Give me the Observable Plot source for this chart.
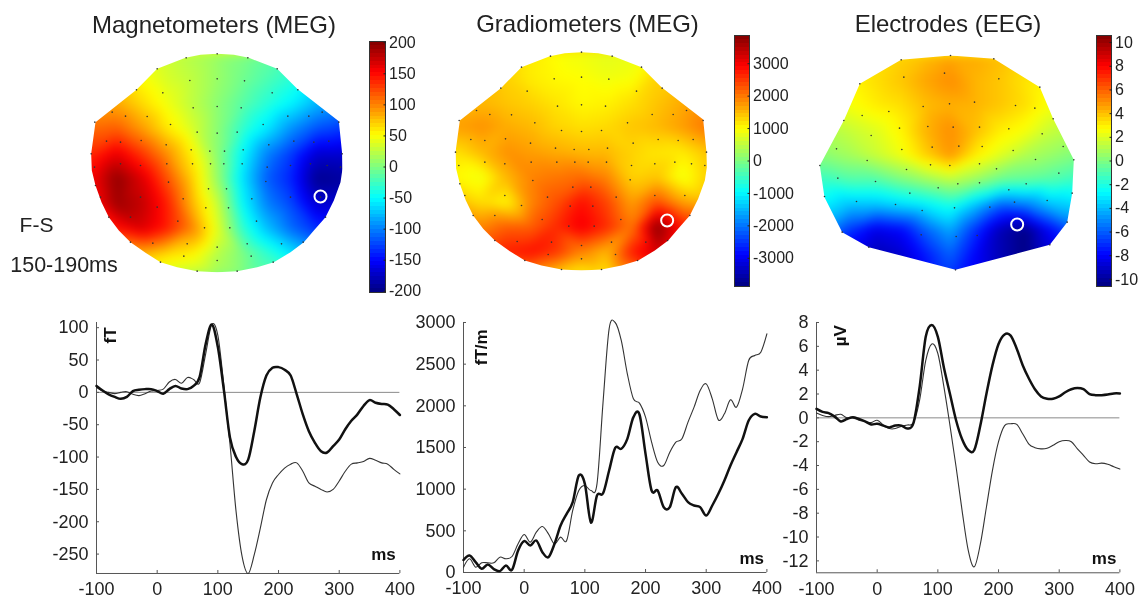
<!DOCTYPE html>
<html>
<head>
<meta charset="utf-8">
<script src="https://cdn.jsdelivr.net/npm/d3@7"></script>
<script src="https://cdn.jsdelivr.net/npm/@observablehq/plot@0.6"></script>
<style>
html,body{margin:0;padding:0;background:#fff;}
#chart{position:relative;width:1139px;height:598px;overflow:hidden;background:#fff;font-family:"Liberation Sans",Arial,sans-serif;color:#222;filter:blur(0.35px);}
#chart svg{overflow:visible;background:transparent;max-width:none;}
#chart .slot{position:absolute;}
#chart .t{position:absolute;white-space:nowrap;transform:translate(-50%,-50%);}
</style>
</head>
<body>
<div id="chart"></div>
<script>
// ---------- time axis shared by all traces (ms)
const times = [-100,-90,-80,-70,-60,-50,-40,-30,-20,-10,0,10,20,30,40,50,60,70,80,90,100,110,120,130,140,150,160,170,180,190,200,210,220,230,240,250,260,270,280,290,300,310,320,330,340,350,360,370,380,390,400];

// ---------- evoked traces
const magThick = [10,3,-3,-7,-10,-7,2,4,5,5,2,-2,5,10,6,5,10,24,75,105,70,3,-70,-100,-111,-104,-60,-8,26,38,39,35,26,-3,-34,-60,-78,-91,-93,-83,-73,-57,-44,-34,-21,-12,-16,-18,-19,-26,-35];
const magThin = [8,2,0,-2,0,1,-3,-5,-2,2,3,5,16,20,14,23,20,15,60,105,88,10,-80,-184,-254,-280,-251,-210,-166,-140,-127,-117,-111,-109,-122,-140,-145,-150,-154,-150,-137,-122,-111,-109,-107,-102,-105,-109,-111,-119,-126];
const gradThick = [150,204,124,44,96,40,16,84,32,264,376,324,384,244,184,344,564,704,844,1164,1064,600,924,950,1224,1496,1484,1604,1864,1896,1424,984,984,784,784,1024,944,844,804,784,684,804,944,1104,1284,1444,1604,1824,1904,1872,1864];
const gradThin = [64,164,64,116,116,116,184,164,192,344,456,364,484,552,464,344,424,384,744,984,1044,984,1064,2044,2924,3000,2784,2384,2084,2032,1864,1564,1324,1284,1444,1564,1604,1804,1984,2184,2264,2084,1832,1904,2072,1984,2204,2544,2604,2644,2864];
const eegThick = [0.75,0.5,0.4,0.1,-0.3,-0.1,0.05,-0.1,-0.3,-0.55,-0.5,-0.65,-0.8,-0.65,-0.65,-0.9,-0.4,2.6,6.8,7.8,6.8,4.2,2,-0.2,-1.8,-2.7,-2.7,-0.65,2,4.4,6.2,7,6.9,5.8,4.4,3.3,2.4,1.8,1.6,1.6,1.8,2.15,2.4,2.5,2.4,2,1.9,1.9,1.95,2.05,2.05];
const eegThin = [0.4,0.2,0.1,0.2,0.3,0,0,-0.2,-0.3,-0.4,-0.2,-0.6,-0.9,-0.9,-0.7,-0.6,-0.4,1.5,4.8,6.2,5.4,2.6,-0.65,-4.1,-7.8,-11.1,-12.5,-10.6,-7.5,-4.4,-2,-0.65,-0.5,-0.55,-1.35,-2.2,-2.5,-2.6,-2.55,-2.3,-2,-1.9,-2,-2.6,-3.15,-3.7,-3.85,-3.8,-3.9,-4.1,-4.3];

// ---------- tick values
const xTicks = [-100,0,100,200,300,400];
const magYTicks = [-250,-200,-150,-100,-50,0,50,100];
const gradYTicks = [0,500,1000,1500,2000,2500,3000];
const eegYTicks = [-12,-10,-8,-6,-4,-2,0,2,4,6,8];
const magBarTicks = [-200,-150,-100,-50,0,50,100,150,200];
const gradBarTicks = [-3000,-2000,-1000,0,1000,2000,3000];
const eegBarTicks = [-10,-8,-6,-4,-2,0,2,4,6,8,10];

// ---------- MEG sensor layout (sensor units)
const megOutlineX = [650,700,745,830,890,1015,1025,1026,1020,1000,975,940,910,870,820,770,710,650,590,530,480,435,390,355,325,303,285,274,272,285,408,470,555,600];
const megOutlineY = [160,163,172,205,265,362,460,505,545,600,650,690,725,755,785,800,812,815,812,800,785,757,725,690,650,605,555,510,460,365,268,205,172,163];
const megSensorX = [650,557,742,470,830,568,650,732,408,487,815,892,578,650,722,335,375,440,862,925,965,283,510,788,1015,590,650,710,318,360,422,497,805,880,940,985,272,572,628,672,728,1025,282,360,420,499,576,630,670,725,800,870,930,980,1020,285,504,624,678,796,300,420,548,754,870,960,470,616,684,325,390,532,612,688,768,975,457,560,650,740,843,908,390,550,752,480,650,818,590,710];
const megSensorY = [160,172,172,205,205,240,235,241,268,277,277,268,322,318,322,335,347,348,347,347,335,365,372,372,365,395,398,395,422,425,420,433,433,422,425,422,460,448,452,452,448,460,500,490,495,490,490,490,490,490,500,495,490,495,500,555,545,565,565,543,590,590,595,595,590,590,620,622,622,650,650,662,682,682,662,650,728,730,740,730,730,725,725,767,767,785,780,785,812,812];

// ---------- field grids (rows by gridY, columns by gridX)
const megGridX = [200,275,350,425,500,575,650,725,800,875,950,1025,1100];
const megGridY = [160,235,310,385,460,535,610,685,760,835];
const magRows = [
 [40,40,40,35,30,20,10,0,-10,-20,-30,-40,-40],
 [80,70,60,50,35,25,10,-5,-20,-35,-50,-60,-70],
 [100,90,85,65,45,25,5,-15,-35,-55,-80,-100,-110],
 [120,110,115,90,60,35,5,-30,-60,-95,-120,-130,-140],
 [150,135,160,130,95,55,5,-50,-100,-130,-170,-170,-170],
 [170,155,195,165,120,70,10,-60,-115,-140,-195,-190,-190],
 [170,145,190,175,140,80,30,-50,-100,-125,-170,-170,-170],
 [140,130,145,165,140,100,40,-30,-75,-110,-135,-140,-140],
 [80,80,90,80,65,55,22,0,-30,-60,-85,-100,-100],
 [30,30,30,30,25,18,8,0,-10,-25,-40,-50,-50]
];
const gradRows = [
 [1400,1400,1400,1300,1100,950,850,750,800,1000,1200,1300,1300],
 [1500,1500,1500,1300,1100,1000,950,850,900,1300,1400,1500,1500],
 [1500,1500,1500,1400,1300,1150,1000,1050,1200,1400,1600,1700,1700],
 [1700,1700,1800,1600,1500,1300,1200,1250,1400,1500,1700,2000,2000],
 [1200,1200,1500,1800,1700,1600,1500,1500,1300,1150,1100,1400,1400],
 [1000,1000,850,1500,1900,2000,2100,1900,1300,1400,850,1300,1300],
 [1500,1500,1200,1000,1900,2300,2800,2400,1700,2300,1700,1500,1500],
 [1900,1900,1900,2200,2200,2600,3000,2600,2000,3800,2800,2000,2000],
 [2300,2300,2400,2700,2800,2500,1900,1500,2700,3300,2500,2000,2000],
 [1500,1500,1700,1800,1700,1200,950,1100,1700,2300,2300,2000,2000]
];
const eegGridX = [60,135,210,285,360,435,510,585,660,735,810,885,960];
const eegGridY = [165,240,315,390,465,540,615,690,765,840];
const eegRows = [
 [3,3,3,3.2,3.6,4,4.5,4.4,4,3.5,3,3,3],
 [2.5,2.5,2.8,3.3,3.8,4.5,5,4.2,3.8,3.2,2.8,2.5,2.5],
 [1.5,1.8,2.5,3,3.3,4,4.3,4.2,3.8,3.3,2.5,2,2],
 [1,1,1.5,2,2.8,4.2,5,4,3,2.5,1.5,1,1],
 [0.3,0.3,0.8,1.5,2.3,3.6,4.8,3,2,1,0.5,0,0],
 [-1.5,-1.5,-1,-1,-0.2,0.5,1.2,0.5,-0.5,-0.7,-1,-1.5,-1.5],
 [-3,-3,-4,-4,-3.5,-3,-2.2,-4,-6,-5.5,-4,-3.5,-3.5],
 [-5,-5,-7,-8.5,-8,-6,-4.5,-7,-9.5,-10.5,-8,-6,-6],
 [-8,-8,-9,-9.5,-9,-7.5,-6,-8,-9.5,-10.5,-9,-7,-7],
 [-8,-8,-9,-9,-9,-8,-7,-8,-9,-10,-9,-7,-7]
];

// ---------- EEG layout
const eegOutlineX = [510,640,778,818,880,875,860,808,525,265,185,132,118,190,238,362];
const eegOutlineY = [165,175,260,355,478,578,665,733,808,740,695,590,495,360,250,178];
const eegSensorX = [510,640,362,238,778,370,492,655,325,245,190,428,507,582,705,763,818,357,442,518,597,685,272,785,168,364,455,535,605,698,848,260,765,118,450,508,597,880,378,648,172,285,835,473,532,597,737,388,685,132,875,228,345,702,800,425,522,628,860,185,422,527,590,808,265,525];
const eegSensorY = [165,175,178,250,260,230,218,235,333,345,360,318,310,305,315,323,355,383,378,380,380,385,405,400,445,447,440,437,438,450,438,480,477,495,493,495,490,478,507,505,533,543,518,562,550,547,550,578,568,588,578,603,612,605,600,630,622,620,665,695,703,708,705,733,740,808];

const jet = ["#000080","#0000ff","#00ffff","#ffff00","#ff0000","#800000"];
const jetScale = M => ({type:"linear", domain:[-M,-0.75*M,-0.25*M,0.25*M,0.75*M,M], range:jet, interpolate:"rgb", clamp:true});

const chart = document.getElementById("chart");
function place(svg, left, top){
  const d = document.createElement("div");
  d.className = "slot"; d.style.left = left+"px"; d.style.top = top+"px";
  d.appendChild(svg); chart.appendChild(d);
}
function label(text, x, y, size){
  const d = document.createElement("div");
  d.className = "t"; d.textContent = text;
  d.style.left = x+"px"; d.style.top = y+"px"; d.style.fontSize = size+"px";
  chart.appendChild(d);
}

function topo({left, top, w, h, x0, y0, gridX, gridY, rows, M, outX, outY, sensX, sensY, ring}){
  const cells = gridY.flatMap((y,r)=>gridX.map((x,c)=>({x, y, v:rows[r][c]})));
  const ringOutline = outX.map((x,i)=>[x,outY[i]]);
  ringOutline.push(ringOutline[0]);
  const outline = {type:"Polygon", coordinates:[ringOutline]};
  const sensors = sensX.map((x,i)=>({x, y:sensY[i]}));
  place(Plot.plot({
    width:w, height:h, margin:0,
    x:{domain:[x0,x0+3*w], axis:null},
    y:{domain:[y0+3*h,y0], axis:null},
    color:jetScale(M),
    marks:[
      Plot.raster(cells,{x:"x",y:"y",fill:"v",interpolate:"barycentric",pixelSize:1,blur:4,clip:outline}),
      Plot.dot(sensors,{x:"x",y:"y",r:0.8,fill:"#333",stroke:"none"}),
      Plot.dot([ring],{x:d=>d[0],y:d=>d[1],r:6,stroke:"#fff",strokeWidth:2,fill:"none"})
    ]
  }), left, top);
}

function colorBar({left, top, w, h, M, ticks}){
  const n = 64;
  const levels = d3.range(n).map(i=>({y1:-M+i*2*M/n, y2:-M+(i+1)*2*M/n}));
  const mr = 50, mt = 8, mb = 8;
  place(Plot.plot({
    width:w+mr, height:h+mt+mb,
    marginLeft:0, marginRight:mr, marginTop:mt, marginBottom:mb,
    x:{domain:[0,1], axis:null},
    y:{domain:[-M,M], axis:null},
    color:jetScale(M),
    style:{fontFamily:'"Liberation Sans",Arial,sans-serif', color:"#222"},
    marks:[
      Plot.rect(levels,{x1:0,x2:1,y1:"y1",y2:"y2",fill:d=>(d.y1+d.y2)/2,shapeRendering:"crispEdges"}),
      Plot.frame({stroke:"#333"}),
      Plot.axisY({anchor:"right", ticks, tickSize:-2.5, tickPadding:6, fontSize:16, label:null, tickFormat:d=>String(d), stroke:"#222"})
    ]
  }), left, top-mt);
}

function tracePanel({left, top, w, h, yDomain, yTicks, thick, thin, zero, unit, unitPos, msPos}){
  const ml=60, mr=19, mt=10, mb=25;
  const toRows = a => times.map((t,i)=>({t, v:a[i]}));
  const marks = [];
  if (zero) marks.push(Plot.ruleY([0],{stroke:"#8a8a8a",strokeWidth:1}));
  marks.push(
    Plot.ruleX([-100],{stroke:"#555",strokeWidth:1}),
    Plot.ruleY([yDomain[0]],{stroke:"#555",strokeWidth:1}),
    Plot.line(toRows(thin),{x:"t",y:"v",stroke:"#333",strokeWidth:1.1,curve:"cardinal"}),
    Plot.line(toRows(thick),{x:"t",y:"v",stroke:"#111",strokeWidth:2.5,curve:"cardinal"}),
    Plot.axisX({anchor:"bottom", ticks:xTicks, tickSize:-3, tickPadding:12, fontSize:18, label:null, tickFormat:d=>String(d), stroke:"#555"}),
    Plot.axisY({anchor:"left", ticks:yTicks, tickSize:-3, tickPadding:11, fontSize:18, label:null, tickFormat:d=>String(d), stroke:"#555"}),
    Plot.text([unit],{x:unitPos[0],y:unitPos[1],text:d=>d,rotate:-90,fontSize:17,fontWeight:"bold",fill:"#111"}),
    Plot.text(["ms"],{x:msPos[0],y:msPos[1],text:d=>d,fontSize:17,fontWeight:"bold",fill:"#111"})
  );
  place(Plot.plot({
    width:w+ml+mr, height:h+mt+mb,
    marginLeft:ml, marginRight:mr, marginTop:mt, marginBottom:mb,
    x:{domain:[-100,400], axis:null},
    y:{domain:yDomain, axis:null},
    style:{fontFamily:'"Liberation Sans",Arial,sans-serif', color:"#222"},
    marks
  }), left-ml, top-mt);
}

// ---------- maps
const megShape = {gridX:megGridX, gridY:megGridY, outX:megOutlineX, outY:megOutlineY, sensX:megSensorX, sensY:megSensorY};
topo({left:0, top:0, w:420, h:300, x0:0, y0:0, rows:magRows, M:202, ring:[960,588], ...megShape});
topo({left:420, top:0, w:360, h:300, x0:167, y0:5, rows:gradRows, M:3870, ring:[907,665], ...megShape});
topo({left:780, top:0, w:359, h:300, x0:0, y0:0, gridX:eegGridX, gridY:eegGridY, rows:eegRows, M:10.6, outX:eegOutlineX, outY:eegOutlineY, sensX:eegSensorX, sensY:eegSensorY, ring:[710,672]});

// ---------- colour bars
colorBar({left:369, top:41, w:16, h:251, M:202, ticks:magBarTicks});
colorBar({left:734, top:35, w:15, h:251, M:3870, ticks:gradBarTicks});
colorBar({left:1096, top:35, w:15, h:251, M:10.6, ticks:eegBarTicks});

// ---------- traces
tracePanel({left:96.3, top:321.7, w:303.4, h:251, yDomain:[-280,108], yTicks:magYTicks, thick:magThick, thin:magThin, zero:true, unit:"fT", unitPos:[-77,88], msPos:[373,-250]});
tracePanel({left:463.3, top:322, w:303.4, h:250, yDomain:[0,3000], yTicks:gradYTicks, thick:gradThick, thin:gradThin, zero:false, unit:"fT/m", unitPos:[-70,2703], msPos:[375,164]});
tracePanel({left:815.7, top:322, w:303.4, h:250.3, yDomain:[-13,8], yTicks:eegYTicks, thick:eegThick, thin:eegThin, zero:true, unit:"µV", unitPos:[-60,6.9], msPos:[374,-11.8]});

// ---------- text
label("Magnetometers (MEG)", 214, 25, 24);
label("Gradiometers (MEG)", 587.5, 24, 24);
label("Electrodes (EEG)", 948, 24, 24);
label("F-S", 36.5, 225, 21);
label("150-190ms", 64, 265, 21.5);
</script>
</body>
</html>
